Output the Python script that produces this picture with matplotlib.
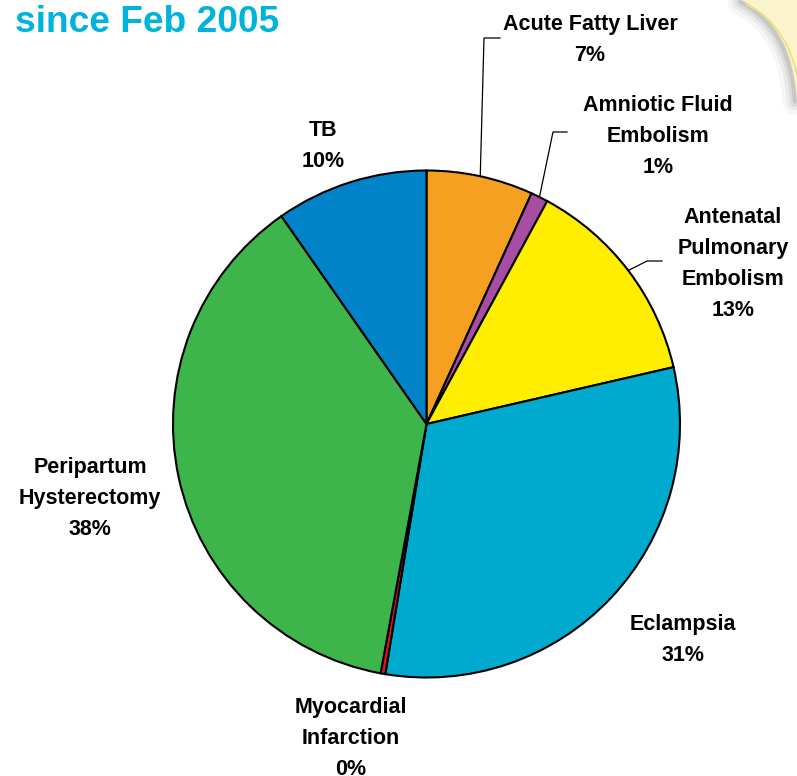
import numpy as np
import matplotlib.pyplot as plt
from matplotlib.patches import Polygon

plt.rcParams['font.family'] = ['Liberation Sans', 'DejaVu Sans']

labels = ["Acute Fatty Liver", "Amniotic Fluid\nEmbolism", "Antenatal\nPulmonary\nEmbolism",
          "Eclampsia", "Myocardial\nInfarction", "Peripartum\nHysterectomy", "TB"]
values = [6.8, 1.1, 13.5, 31.2, 0.3, 37.4, 9.7]
pct_text = ["7%", "1%", "13%", "31%", "0%", "38%", "10%"]
colors = ["#F5A021", "#A84DA4", "#FFEE00", "#00AACF", "#E3141E", "#3DB54A", "#0083C9"]

# label centres in pixels (x, y of first line) and leader elbows
label_pos = [(590, 22), (658, 103), (733, 215), (683, 622), (351, 705), (90, 465), (323, 128)]
leaders = {0: [(484, 38), (500, 38)], 1: [(553, 132), (567, 132)], 2: [(647, 261), (662, 261)]}

W, H = 797, 776
cx, cy, r = 426.5, 424, 253.5

fig = plt.figure(figsize=(W / 100, H / 100), dpi=100)
ax = fig.add_axes([0, 0, 1, 1])

# decorative cream page curl, top-right corner
t = np.linspace(0, 1, 60)
curve_x = (1 - t) ** 2 * 742 + 2 * (1 - t) * t * 792 + t ** 2 * 797
curve_y = (1 - t) ** 2 * 0 + 2 * (1 - t) * t * 25 + t ** 2 * 100
# soft shadow: strokes along the curl edge, fading outward
for lw, a in [(18, 0.05), (12, 0.07), (7, 0.1), (3, 0.15)]:
    ax.plot(curve_x - 2, H - curve_y - 2, color="#5A5A50", lw=lw, alpha=a,
            solid_capstyle="round", zorder=0)
pts = list(zip(curve_x, H - curve_y)) + [(W, H - 100), (W, H)]
ax.add_patch(Polygon(pts, closed=True, facecolor="#FAF3CC", edgecolor="none", zorder=0.5))
ax.plot(curve_x + 4, H - curve_y - 4, color="#EDE07A", lw=1.2, zorder=0.6)

ax.pie(values, colors=colors, startangle=90, counterclock=False, center=(cx, H - cy), radius=r,
       wedgeprops=dict(edgecolor="black", linewidth=1.5), frame=True)
ax.set_xlim(0, W)
ax.set_ylim(0, H)
ax.set_aspect('equal')
ax.axis('off')

# leader lines from wedge midpoint on rim
cum = np.cumsum([0] + values)
for i, elbow in leaders.items():
    mid = (cum[i] + cum[i + 1]) / 2 / 100 * 2 * np.pi
    sx, sy = cx + r * np.sin(mid), cy - r * np.cos(mid)
    xs = [sx] + [p[0] for p in elbow]
    ys = [H - sy] + [H - p[1] for p in elbow]
    ax.plot(xs, ys, color="black", lw=0.9, zorder=5)

for lab, pct, (lx, ly) in zip(labels, pct_text, label_pos):
    ax.text(lx, H - ly + 8, lab + "\n" + pct, ha="center", va="top", fontsize=15.5,
            fontweight="bold", linespacing=1.62, color="black")

ax.text(15, H - 23, "since Feb 2005", ha="left", va="center", fontsize=26.7,
        fontweight="bold", color="#00B3DC")

fig.savefig("out.png", dpi=100)
